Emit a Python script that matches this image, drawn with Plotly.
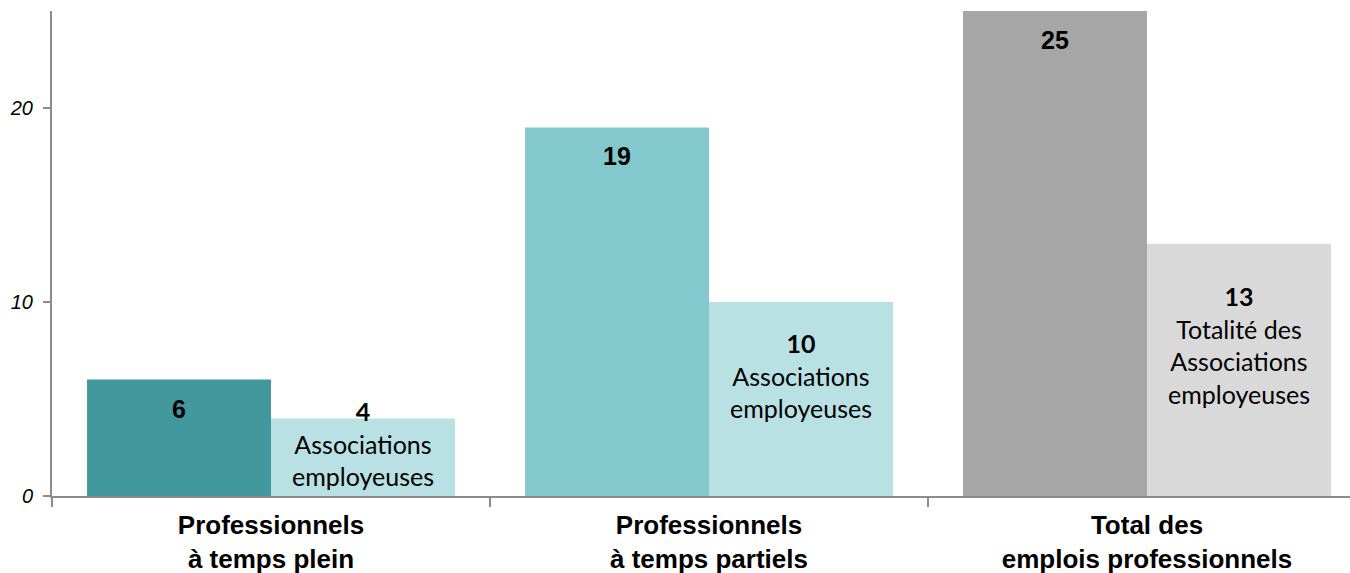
import plotly.graph_objects as go

categories = ["Professionnels<br>à temps plein", "Professionnels<br>à temps partiels", "Total des<br>emplois professionnels"]
professionnels = [6, 19, 25]
associations = [4, 10, 13]
assoc_labels = ["Associations<br>employeuses", "Associations<br>employeuses", "Totalité des<br>Associations<br>employeuses"]
y_ticks = [0, 10, 20]

dark_colors = ["#43989E", "#83C8CC", "#A6A6A6"]
light_colors = ["#B9E0E3", "#B9E0E3", "#D9D9D9"]
light_label_shift = [14, 24, 25]

bargap = 0.16
bar_w = (1 - bargap) / 2

fig = go.Figure()
fig.add_trace(go.Bar(x=categories, y=professionnels, marker=dict(color=dark_colors, line=dict(width=0)),
                     hoverinfo="skip", showlegend=False))
fig.add_trace(go.Bar(x=categories, y=associations, marker=dict(color=light_colors, line=dict(width=0)),
                     hoverinfo="skip", showlegend=False))

for i, (v, a, lab) in enumerate(zip(professionnels, associations, assoc_labels)):
    fig.add_annotation(x=i - bar_w / 2, y=v, xref="x", yref="y", text=f"<b>{v}</b>",
                       showarrow=False, yanchor="middle", yshift=-29,
                       font=dict(family="Liberation Sans, Arial", size=25, color="black"))
    fig.add_annotation(x=i + bar_w / 2, y=a / 2, xref="x", yref="y",
                       text=f"<b>{a}</b><br>{lab}",
                       showarrow=False, yanchor="middle", yshift=light_label_shift[i],
                       font=dict(family="Lato", size=25, color="black"))

fig.update_layout(
    width=1350, height=573,
    margin=dict(l=52, r=0, t=11, b=77),
    paper_bgcolor="white", plot_bgcolor="white",
    barmode="group", bargap=bargap, bargroupgap=0,
    xaxis=dict(type="category", range=[-0.5, 2.4635], tickson="boundaries",
               ticks="outside", ticklen=9, tickcolor="#8C8C8C", tickwidth=1.5,
               showline=True, linecolor="#8C8C8C", linewidth=2, showgrid=False,
               tickfont=dict(family="Liberation Sans, Arial", size=26, color="black", weight="bold"),
               ticklabelstandoff=5,
               automargin=False, fixedrange=True),
    yaxis=dict(range=[0, 25], tickvals=y_ticks, ticks="outside", ticklen=7,
               tickcolor="#8C8C8C", tickwidth=1.5, showline=True, linecolor="#8C8C8C",
               linewidth=2, showgrid=False, zeroline=False,
               tickfont=dict(family="Liberation Sans, Arial", size=20, color="black", style="italic"),
               ticklabelstandoff=6,
               automargin=False, fixedrange=True),
)

fig.write_html("out.html", config={"displayModeBar": False},
               post_script="document.body.style.margin='0';document.body.style.overflow='hidden';")
